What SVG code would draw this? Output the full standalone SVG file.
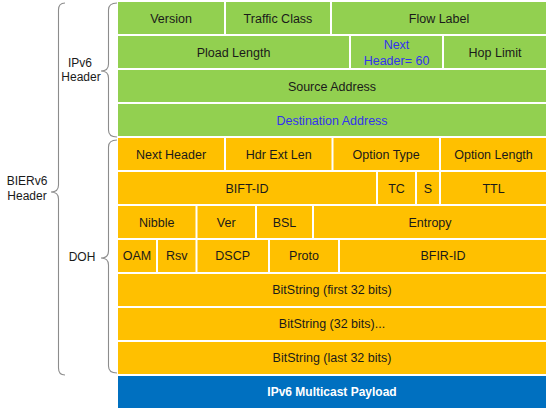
<svg xmlns="http://www.w3.org/2000/svg" width="549" height="410" viewBox="0 0 549 410">
<style>
.g{fill:#92D050}
.o{fill:#FFC000}
.b{fill:#0070C0}
text{font-family:"Liberation Sans",Arial,sans-serif;font-size:12.5px;fill:#1a1a1a;text-anchor:middle}
.bl{fill:#3333EE}
.w{fill:#ffffff;font-weight:bold;font-size:12px}
.lbl{font-size:12px}
.br{fill:none;stroke:#8c8c8c;stroke-width:1.1}
</style>
<rect width="549" height="410" fill="#ffffff"/>
<g id="braces">
<path class="br" d="M117,3 Q108.5,3 108.5,10 L108.5,64 Q108.5,71 101,71 Q108.5,71 108.5,78 L108.5,130 Q108.5,137 117,137"/>
<path class="br" d="M65,3 Q58.5,3 58.5,10 L58.5,185 Q58.5,192 51,192 Q58.5,192 58.5,199 L58.5,368 Q58.5,375 65,375"/>
<path class="br" d="M117,140 Q108.5,140 108.5,147 L108.5,251 Q108.5,258 101,258 Q108.5,258 108.5,265 L108.5,366 Q108.5,373 117,373"/>
</g>
<g id="label-ipv6"><text class="lbl" x="80" y="66.5">IPv6</text><text class="lbl" x="81" y="80.5">Header</text></g>
<g id="label-bierv6"><text class="lbl" x="27" y="185">BIERv6</text><text class="lbl" x="27" y="199.5">Header</text></g>
<g id="label-doh"><text class="lbl" x="82" y="261">DOH</text></g>

<g id="version"><rect class="g" x="118" y="2" width="106" height="32"/><text x="171" y="22.5">Version</text></g>
<g id="traffic-class"><rect class="g" x="226" y="2" width="104" height="32"/><text x="278" y="22.5">Traffic Class</text></g>
<g id="flow-label"><rect class="g" x="332" y="2" width="214" height="32"/><text x="439" y="22.5">Flow Label</text></g>

<g id="payload-length"><rect class="g" x="118" y="36" width="231" height="32"/><text x="233.5" y="56.5">Pload Length</text></g>
<g id="next-header-60"><rect class="g" x="351" y="36" width="91" height="32"/><text class="bl" x="396.5" y="49">Next</text><text class="bl" x="396.5" y="64.5">Header= 60</text></g>
<g id="hop-limit"><rect class="g" x="444" y="36" width="102" height="32"/><text x="495" y="56.5">Hop Limit</text></g>

<g id="source-address"><rect class="g" x="118" y="70" width="428" height="32"/><text x="332" y="90.5">Source Address</text></g>
<g id="destination-address"><rect class="g" x="118" y="104" width="428" height="32"/><text class="bl" x="332" y="124.5">Destination Address</text></g>

<g id="next-header"><rect class="o" x="118" y="138" width="106" height="32"/><text x="171" y="158.5">Next Header</text></g>
<g id="hdr-ext-len"><rect class="o" x="226" y="138" width="105.5" height="32"/><text x="278.7" y="158.5">Hdr Ext Len</text></g>
<g id="option-type"><rect class="o" x="333.5" y="138" width="105.5" height="32"/><text x="386.2" y="158.5">Option Type</text></g>
<g id="option-length"><rect class="o" x="441" y="138" width="105" height="32"/><text x="493.5" y="158.5">Option Length</text></g>

<g id="bift-id"><rect class="o" x="118" y="172" width="258" height="32"/><text x="247" y="192.5">BIFT-ID</text></g>
<g id="tc"><rect class="o" x="378" y="172" width="37" height="32"/><text x="396.5" y="192.5">TC</text></g>
<g id="s"><rect class="o" x="417" y="172" width="22" height="32"/><text x="428" y="192.5">S</text></g>
<g id="ttl"><rect class="o" x="441" y="172" width="105" height="32"/><text x="493.5" y="192.5">TTL</text></g>

<g id="nibble"><rect class="o" x="118" y="206" width="77.5" height="32"/><text x="156.7" y="226.5">Nibble</text></g>
<g id="ver"><rect class="o" x="197.5" y="206" width="57.5" height="32"/><text x="226.2" y="226.5">Ver</text></g>
<g id="bsl"><rect class="o" x="257" y="206" width="55" height="32"/><text x="284.5" y="226.5">BSL</text></g>
<g id="entropy"><rect class="o" x="314" y="206" width="232" height="32"/><text x="430" y="226.5">Entropy</text></g>

<g id="oam"><rect class="o" x="118" y="240" width="38" height="32"/><text x="137" y="260" font-size="12">OAM</text></g>
<g id="rsv"><rect class="o" x="158" y="240" width="37.5" height="32"/><text x="176.7" y="260" font-size="12">Rsv</text></g>
<g id="dscp"><rect class="o" x="197.5" y="240" width="70.5" height="32"/><text x="232.7" y="260" font-size="12">DSCP</text></g>
<g id="proto"><rect class="o" x="270" y="240" width="68" height="32"/><text x="304" y="260" font-size="12">Proto</text></g>
<g id="bfir-id"><rect class="o" x="340" y="240" width="206" height="32"/><text x="443" y="260" font-size="12">BFIR-ID</text></g>

<g id="bitstring-first"><rect class="o" x="118" y="274" width="428" height="32"/><text x="332" y="294" font-size="12">BitString (first 32 bits)</text></g>
<g id="bitstring-mid"><rect class="o" x="118" y="308" width="428" height="32"/><text x="332" y="328" font-size="12">BitString (32 bits)...</text></g>
<g id="bitstring-last"><rect class="o" x="118" y="342" width="428" height="32"/><text x="332" y="362" font-size="12">BitString (last 32 bits)</text></g>

<g id="payload"><rect class="b" x="118" y="376" width="428" height="32"/><text class="w" x="332" y="396">IPv6 Multicast Payload</text></g>
</svg>
